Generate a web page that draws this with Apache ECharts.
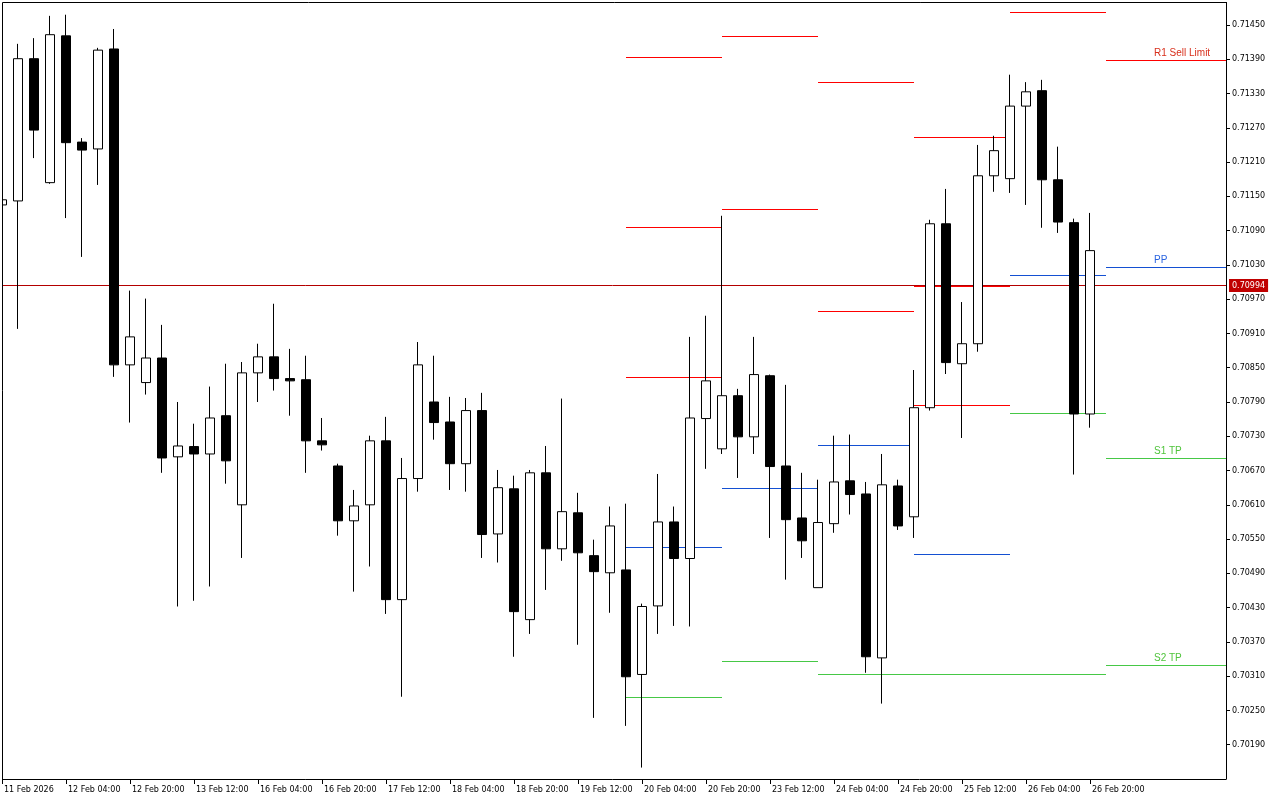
<!DOCTYPE html>
<html><head><meta charset="utf-8">
<script src="https://cdn.jsdelivr.net/npm/echarts@6/dist/echarts.min.js"></script>
<style>html,body{margin:0;padding:0;background:#fff}#c{width:1280px;height:800px}</style>
</head><body><div id="c"></div>
<script>
// ---- categories (4h bars, weekend skipped) ----
const days = ['11 Feb','12 Feb','13 Feb','16 Feb','17 Feb','18 Feb','19 Feb','20 Feb','23 Feb','24 Feb','25 Feb','26 Feb','27 Feb','2 Mar'];
const hours = ['00:00','04:00','08:00','12:00','16:00','20:00'];
const categories = [];
days.forEach(d => hours.forEach(h => categories.push(d + ' ' + h)));
categories.splice(0, 3);            // series starts 11 Feb 12:00
categories.splice(77);              // keep 8 empty future slots

const tickLabels = ['11 Feb 2026','12 Feb 04:00','12 Feb 20:00','13 Feb 12:00','16 Feb 04:00','16 Feb 20:00',
  '17 Feb 12:00','18 Feb 04:00','18 Feb 20:00','19 Feb 12:00','20 Feb 04:00','20 Feb 20:00',
  '23 Feb 12:00','24 Feb 04:00','24 Feb 20:00','25 Feb 12:00','26 Feb 04:00','26 Feb 20:00'];

// ---- OHLC ----
const open = [0.71135,0.71142,0.71391,0.71174,0.71431,0.71245,0.71233,0.71408,0.70855,0.70824,
0.70867,0.70694,0.70712,0.70699,0.70766,0.70610,0.70841,0.70869,0.70831,0.70829,
0.70722,0.70678,0.70582,0.70610,0.70722,0.70444,0.70656,0.70790,0.70755,0.70682,
0.70775,0.70559,0.70638,0.70409,0.70666,0.70533,0.70596,0.70521,0.70491,0.70496,
0.70313,0.70433,0.70580,0.70516,0.70761,0.70708,0.70801,0.70729,0.70836,0.70678,
0.70587,0.70465,0.70577,0.70652,0.70629,0.70342,0.70643,0.70589,0.70780,0.71102,
0.70857,0.70892,0.71186,0.71181,0.71308,0.71335,0.71179,0.71104,0.70769];
const close = [0.71144,0.71391,0.71266,0.71433,0.71244,0.71231,0.71406,0.70855,0.70904,0.70867,
0.70692,0.70713,0.70699,0.70762,0.70687,0.70841,0.70869,0.70831,0.70827,0.70722,
0.70715,0.70582,0.70608,0.70722,0.70444,0.70656,0.70855,0.70754,0.70682,0.70775,
0.70558,0.70640,0.70423,0.70666,0.70533,0.70598,0.70526,0.70493,0.70573,0.70309,
0.70432,0.70580,0.70516,0.70762,0.70827,0.70801,0.70729,0.70838,0.70677,0.70584,
0.70547,0.70579,0.70650,0.70628,0.70344,0.70645,0.70573,0.70780,0.71102,0.70859,
0.70892,0.71186,0.71230,0.71308,0.71333,0.71179,0.71105,0.70769,0.71055];
const low = [0.71133,0.70918,0.71217,0.71172,0.71112,0.71044,0.71170,0.70834,0.70754,0.70803,
0.70666,0.70432,0.70442,0.70467,0.70647,0.70517,0.70790,0.70810,0.70766,0.70666,
0.70705,0.70556,0.70458,0.70502,0.70419,0.70274,0.70633,0.70724,0.70636,0.70633,
0.70517,0.70509,0.70344,0.70384,0.70461,0.70512,0.70365,0.70237,0.70421,0.70223,
0.70150,0.70384,0.70398,0.70397,0.70673,0.70699,0.70657,0.70699,0.70552,0.70479,
0.70517,0.70465,0.70561,0.70593,0.70316,0.70262,0.70566,0.70552,0.70775,0.70839,
0.70727,0.70878,0.71158,0.71156,0.71135,0.71095,0.71086,0.70663,0.70745];
const high = [0.71146,0.71417,0.71427,0.71466,0.71468,0.71252,0.71410,0.71443,0.70985,0.70971,
0.70925,0.70790,0.70752,0.70817,0.70857,0.70860,0.70892,0.70962,0.70883,0.70871,
0.70762,0.70682,0.70636,0.70731,0.70764,0.70692,0.70895,0.70871,0.70799,0.70797,
0.70806,0.70671,0.70661,0.70671,0.70713,0.70796,0.70631,0.70549,0.70607,0.70612,
0.70437,0.70664,0.70607,0.70904,0.70941,0.71116,0.70813,0.70904,0.70838,0.70820,
0.70666,0.70654,0.70731,0.70733,0.70650,0.70699,0.70654,0.70846,0.71109,0.71163,
0.70965,0.71240,0.71256,0.71363,0.71350,0.71354,0.71237,0.71111,0.71121];

const currentPrice = 0.70994;

// ---- daily pivot levels ----
const levelFrom = ['20 Feb 00:00','20 Feb 00:00','20 Feb 00:00','20 Feb 00:00','20 Feb 00:00',
  '23 Feb 00:00','23 Feb 00:00','23 Feb 00:00','23 Feb 00:00',
  '24 Feb 00:00','24 Feb 00:00','24 Feb 00:00','24 Feb 00:00',
  '25 Feb 00:00','25 Feb 00:00','25 Feb 00:00','25 Feb 00:00',
  '26 Feb 00:00','26 Feb 00:00','26 Feb 00:00','26 Feb 00:00',
  '27 Feb 00:00','27 Feb 00:00','27 Feb 00:00','27 Feb 00:00'];
const levelTo = ['23 Feb 00:00','23 Feb 00:00','23 Feb 00:00','23 Feb 00:00','23 Feb 00:00',
  '24 Feb 00:00','24 Feb 00:00','24 Feb 00:00','24 Feb 00:00',
  '25 Feb 00:00','25 Feb 00:00','25 Feb 00:00','26 Feb 00:00',
  '26 Feb 00:00','26 Feb 00:00','26 Feb 00:00','26 Feb 00:00',
  '27 Feb 00:00','27 Feb 00:00','27 Feb 00:00','27 Feb 00:00',
  null,null,null,null];
const levelPrice = [0.71394,0.71097,0.70834,0.70537,0.70274,
  0.71431,0.71128,0.70640,0.70337,
  0.71350,0.70950,0.70715,0.70314,
  0.71254,0.70993,0.70785,0.70524,
  0.71473,0.71013,0.70771,0.70313,
  0.71389,0.71027,0.70692,0.70330];
const levelKind = ['R','R','R','P','S', 'R','R','P','S', 'R','R','P','S', 'R','R','R','P', 'R','P','S','S', 'R','P','S','S'];
const levelText = ['','','','','', '','','','', '','','','', '','','','', '','','','',
  'R1 Sell Limit','PP','S1 TP','S2 TP'];

// ---- styles ----
const lineColor = {R:'#ff0000', P:'#1450d2', S:'#46c846'};
const textColor = {R:'#d8301c', P:'#2a64e0', S:'#50c43c'};
const thickLevels = [14];
const LABEL_BAR = 72;
const AXIS_FONT = 'DejaVu Sans';

const candleData = open.map((o, i) => [o, close[i], low[i], high[i]]);
const levelData = levelPrice.map((p, i) => [
  categories.indexOf(levelFrom[i]),
  levelTo[i] === null ? -1 : categories.indexOf(levelTo[i]),
  p
]);
const barCount = open.length;

const chart = echarts.init(document.getElementById('c'), null, {renderer: 'canvas'});
chart.setOption({
  animation: false,
  backgroundColor: '#ffffff',
  grid: {left: -6, width: 1232, top: 3, bottom: 21, outerBoundsMode: 'none', containLabel: false},
  xAxis: {
    type: 'category',
    data: categories,
    boundaryGap: true,
    axisLine: {show: true, lineStyle: {color: '#000', width: 1}},
    axisTick: {show: true, alignWithLabel: true, length: 5, lineStyle: {color: '#000'},
      interval: (idx) => idx % 4 === 0 && idx < barCount},
    axisLabel: {
      interval: (idx) => idx % 4 === 0 && idx < barCount,
      formatter: (v, idx) => tickLabels[idx / 4] || '',
      align: 'left', padding: [0, 0, 0, 2], margin: 7,
      color: '#000', fontFamily: AXIS_FONT, fontSize: 8
    },
    splitLine: {show: false}
  },
  yAxis: {
    type: 'value',
    position: 'right',
    min: 0.70130, max: 0.714885, interval: 0.0006,
    axisLine: {show: true, lineStyle: {color: '#000', width: 1}},
    axisTick: {show: true, length: 4, lineStyle: {color: '#000'}},
    axisLabel: {
      showMinLabel: false, showMaxLabel: false,
      formatter: v => v.toFixed(5), margin: 6, padding: [4, 0, 0, 0],
      color: '#000', fontFamily: AXIS_FONT, fontSize: 8
    },
    splitLine: {show: false}
  },
  graphic: [
    {type: 'rect', z: 100, shape: {x: 0, y: 0, width: 2, height: 800}, style: {fill: '#fff'}},
    {type: 'polyline', z: 101, shape: {points: [[2.5, 779], [2.5, 2.5], [1227, 2.5]]}, style: {stroke: '#000', lineWidth: 1, fill: null}}
  ],
  series: [
    {
      type: 'custom',
      z: 2,
      data: levelData,
      encode: {x: [0, 1], y: 2},
      renderItem: (params, api) => {
        const i = params.dataIndex;
        const p = api.value(2);
        const a = api.coord([api.value(0), p]);
        const cs = params.coordSys;
        const xb = api.value(1) < 0 ? cs.x + cs.width : api.coord([api.value(1), p])[0];
        const thick = thickLevels.includes(i);
        const y = thick ? Math.round(a[1]) : Math.round(a[1]) + 0.5;
        const children = [{
          type: 'line',
          shape: {x1: a[0], y1: y, x2: xb, y2: y},
          style: {stroke: lineColor[levelKind[i]], lineWidth: thick ? 2 : 1}
        }];
        if (levelText[i]) {
          const t = api.coord([LABEL_BAR, p]);
          children.push({
            type: 'text',
            style: {text: levelText[i], x: t[0], y: y - 2, fill: textColor[levelKind[i]],
              font: '10px "Liberation Sans", Arial, sans-serif', align: 'left', verticalAlign: 'bottom'}
          });
        }
        return {type: 'group', children};
      }
    },
    {
      type: 'custom',
      z: 3,
      clip: false,
      data: [[0, currentPrice]],
      encode: {x: 0, y: 1},
      renderItem: (params, api) => {
        const cs = params.coordSys;
        const y = Math.round(api.coord([0, api.value(1)])[1]) + 0.5;
        return {type: 'group', children: [
          {type: 'line', shape: {x1: cs.x, y1: y, x2: cs.x + cs.width, y2: y},
            style: {stroke: '#b40000', lineWidth: 1}},
          {type: 'text', z2: 10, style: {
            text: api.value(1).toFixed(5), x: cs.x + cs.width + 3, y: y,
            fill: '#fff', backgroundColor: '#c00000', padding: [3, 3, 2, 3],
            font: '8px "DejaVu Sans"', align: 'left', verticalAlign: 'middle'}}
        ]};
      }
    },
    {
      type: 'candlestick',
      z: 5,
      data: candleData,
      barWidth: 10,
      itemStyle: {color: '#ffffff', color0: '#000000', borderColor: '#000000', borderColor0: '#000000', borderWidth: 1},
      emphasis: {disabled: true}
    }
  ]
});
</script></body></html>
